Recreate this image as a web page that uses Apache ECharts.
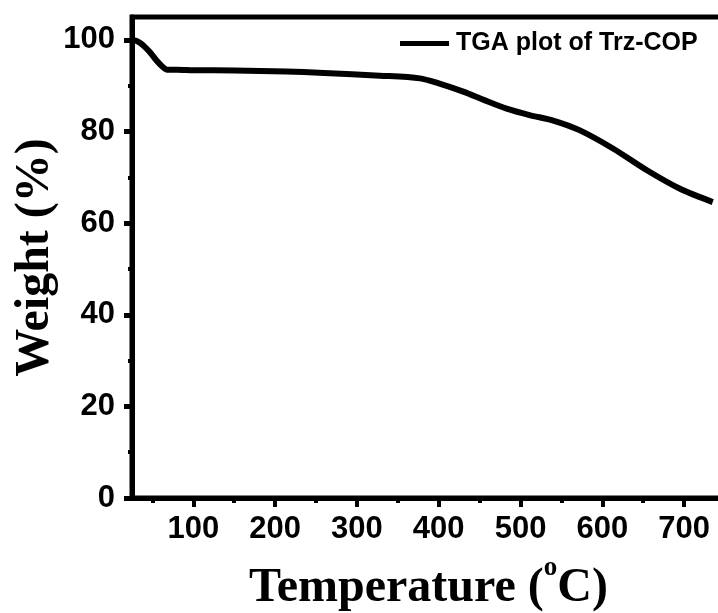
<!DOCTYPE html>
<html>
<head>
<meta charset="utf-8">
<title>TGA plot of Trz-COP</title>
<script src="https://cdn.jsdelivr.net/npm/echarts@6/dist/echarts.min.js"></script>
<style>
  html, body { margin: 0; padding: 0; background: #fff; }
  #chart { width: 718px; height: 613px; }
</style>
</head>
<body>
<div id="chart"></div>
<script>
// Thermogravimetric curve: temperature (°C) and remaining weight (%)
const temperature = [25, 30, 35, 40, 47, 55, 62, 68, 80, 100, 150, 214, 260, 328, 377, 400, 430, 455, 483, 511, 540, 572, 613, 654, 695, 735];
const weight      = [100, 99.8, 99.3, 98.6, 97.3, 95.5, 94.2, 93.5, 93.5, 93.4, 93.3, 93.1, 92.8, 92.2, 91.6, 90.5, 88.7, 86.9, 85.0, 83.6, 82.4, 80.3, 76.3, 71.6, 67.5, 64.6];

const xTickLabels = [100, 200, 300, 400, 500, 600, 700];
const xMinorTicks = [50, 150, 250, 350, 450, 550, 650, 750];
const yTickLabels = [0, 20, 40, 60, 80, 100];
const yMinorTicks = [10, 30, 50, 70, 90];

const seriesName = 'TGA plot of Trz-COP';

const sans = '"Liberation Sans", Arial, sans-serif';
const serif = '"Liberation Serif", "Times New Roman", serif';

const chart = echarts.init(document.getElementById('chart'), null, { renderer: 'canvas' });

chart.setOption({
  animation: false,
  backgroundColor: '#fff',
  grid: {
    left: 132,
    top: 17,
    width: 593,
    height: 481,
    outerBoundsMode: 'none',
    containLabel: false,
    show: true,
    borderColor: '#000',
    borderWidth: 5,
    backgroundColor: 'transparent'
  },
  legend: {
    data: [{ name: seriesName, icon: 'rect' }],
    left: 395,
    top: 26,
    itemWidth: 49,
    itemHeight: 5,
    itemGap: 0,
    textStyle: { fontFamily: sans, fontWeight: 'bold', fontSize: 25, color: '#000', padding: [0, 0, 0, 2] }
  },
  xAxis: [
    {
      type: 'value',
      min: 25,
      max: 750,
      position: 'bottom',
      splitLine: { show: false },
      axisLine: { lineStyle: { color: '#000', width: 5 } },
      axisTick: { customValues: xTickLabels, inside: false, length: 9, lineStyle: { color: '#000', width: 4 } },
      axisLabel: {
        customValues: xTickLabels, margin: 16,
        fontFamily: sans, fontWeight: 'bold', fontSize: 31, color: '#000'
      },
      name: 'Temperature ({sup|o}C)',
      nameLocation: 'middle',
      nameGap: 57,
      nameMoveOverlap: false,
      nameTextStyle: {
        fontFamily: serif, fontWeight: 'bold', fontSize: 48, color: '#000',
        rich: {
          sup: { fontFamily: serif, fontWeight: 'bold', fontSize: 27, color: '#000', padding: [0, 0, 40, 0] }
        }
      }
    },
    {
      type: 'value',
      min: 25,
      max: 750,
      position: 'bottom',
      gridIndex: 0,
      splitLine: { show: false },
      axisLine: { show: false },
      axisTick: { customValues: xMinorTicks, inside: false, length: 5, lineStyle: { color: '#000', width: 4 } },
      axisLabel: { show: false }
    }
  ],
  yAxis: [
    {
      type: 'value',
      min: 0,
      max: 105,
      position: 'left',
      splitLine: { show: false },
      axisLine: { lineStyle: { color: '#000', width: 5 } },
      axisTick: { customValues: yTickLabels, inside: false, length: 8, lineStyle: { color: '#000', width: 5 } },
      axisLabel: {
        customValues: yTickLabels, margin: 17,
        fontFamily: sans, fontWeight: 'bold', fontSize: 31, color: '#000'
      },
      name: 'Weight (%)',
      nameLocation: 'middle',
      nameGap: 72,
      nameMoveOverlap: false,
      nameRotate: 90,
      nameTextStyle: { fontFamily: serif, fontWeight: 'bold', fontSize: 48, color: '#000' }
    },
    {
      type: 'value',
      min: 0,
      max: 105,
      position: 'left',
      splitLine: { show: false },
      axisLine: { show: false },
      axisTick: { customValues: yMinorTicks, inside: false, length: 4, lineStyle: { color: '#000', width: 4 } },
      axisLabel: { show: false }
    }
  ],
  series: [
    {
      name: seriesName,
      type: 'line',
      xAxisIndex: 0,
      yAxisIndex: 0,
      data: temperature.map((t, i) => [t, weight[i]]),
      smooth: 0.3,
      showSymbol: false,
      lineStyle: { color: '#000', width: 6 },
      itemStyle: { color: '#000' }
    }
  ]
});
</script>
</body>
</html>
